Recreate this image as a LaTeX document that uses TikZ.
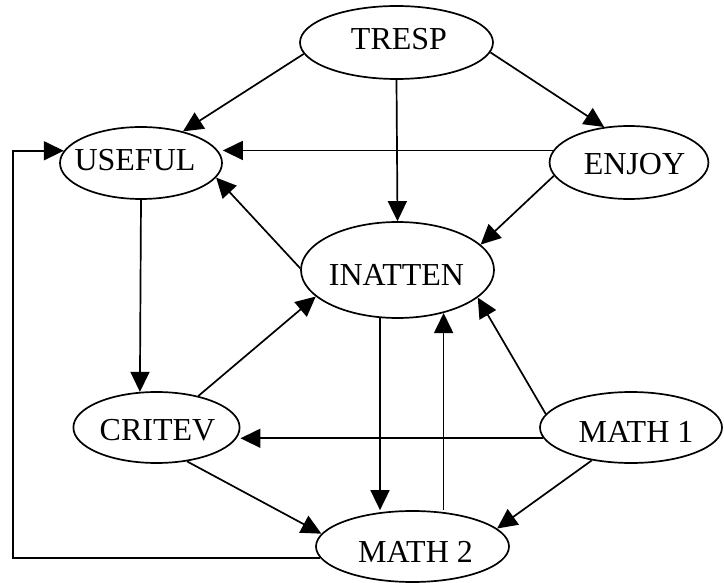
\documentclass[tikz,border=0pt]{standalone}
\usepackage{fontspec}
\setmainfont{Liberation Serif}
\usetikzlibrary{shapes.geometric,arrows.meta,calc}
% label text nudged off the ellipse centre: leading space (twice the shift), raise
\newcommand{\vartext}[3]{\hspace*{#1}\raisebox{#2}[\height][\depth]{#3}}
\begin{document}
\begin{tikzpicture}[x=1pt,y=-1pt,
  var/.style={ellipse,draw,line width=1.7pt,inner sep=0pt,
    font=\fontsize{32}{36}\selectfont},
  link/.style={line width=1.7pt,-{Triangle[length=20pt,width=19pt]}}]
\useasboundingbox (0,0) rectangle (724,583);

% variables
\node[var,minimum width=193pt,minimum height=73pt] (tresp)   at (396.5,42.5)  {\vartext{5pt}{3pt}{TRESP}};
\node[var,minimum width=162pt,minimum height=72pt] (useful)  at (141,163)     {\vartext{-12pt}{3pt}{USEFUL}};
\node[var,minimum width=146pt,minimum height=73pt] (enjoy)   at (629,162.5)   {\vartext{11pt}{-2pt}{ENJOY}};
\node[var,minimum width=193pt,minimum height=96pt] (inatten) at (397.5,270)   {\vartext{-2pt}{-5pt}{INATTEN}};
\node[var,minimum width=161pt,minimum height=71pt] (critev)  at (156.5,427.5) {\vartext{2pt}{-2.5pt}{CRITEV}};
\node[var,minimum width=182pt,minimum height=71pt] (math1)   at (631,427.5)   {\vartext{10pt}{-4pt}{MATH 1}};
\node[var,minimum width=193pt,minimum height=71pt] (math2)   at (412.5,546.5) {\vartext{6pt}{-5pt}{MATH 2}};

\coordinate (loopx) at (13,0);

% paths
\draw[link] (tresp.187) -- (useful.37);
\draw[link] (tresp.354) -- (enjoy.125);
\draw[link] (tresp.south) -- (inatten.north);
\draw[link] (enjoy.171) -- (enjoy.171 -| useful.east);
\draw[link] (enjoy.190) -- (inatten.17);
\draw[link] (inatten.179) -- (useful.349);
\draw[link] (useful.south) -- (critev.115);
\draw[link] (critev.37) -- (inatten.198);
\draw[link] (inatten.250) -- (inatten.250 |- math2.north);
\draw[link] (math2.north -| inatten.317) -- (inatten.317);
\draw[link] (math1.171) -- (inatten.341);
\draw[link] (math1.187) -- (math1.187 -| critev.east);
\draw[link] (math1.220) -- (math2.12);
\draw[link] (critev.312) -- (math2.172);
\draw[link] (math2.187) -- (math2.187 -| loopx) |- (useful.171);
\end{tikzpicture}
\end{document}
